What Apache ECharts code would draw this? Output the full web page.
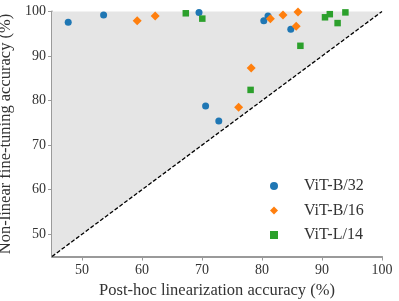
<!DOCTYPE html>
<html><head><meta charset="utf-8">
<script src="https://cdn.jsdelivr.net/npm/echarts@6/dist/echarts.min.js"></script>
<style>html,body{margin:0;padding:0;background:#fff}#c{width:399px;height:301px}</style>
</head><body><div id="c"></div>
<script>
const tickValues = [50, 60, 70, 80, 90, 100];
const diagonal = [[45, 45], [100, 100]];
const vitB32 = [[47.7, 97.6], [53.6, 99.2], [69.5, 99.8], [70.6, 78.8], [72.8, 75.4], [80.3, 97.9], [81.0, 99.0], [84.8, 96.0]];
const vitB16 = [[59.2, 97.9], [62.2, 99.0], [76.1, 78.5], [78.2, 87.3], [81.4, 98.4], [83.5, 99.2], [85.7, 96.7], [86.0, 99.9]];
const vitL14 = [[67.3, 99.6], [70.05, 98.4], [78.1, 82.4], [86.4, 92.3], [90.5, 98.7], [91.3, 99.4], [92.6, 97.4], [93.9, 99.8]];

const serif = 'Liberation Serif';
const axisCommon = {
  type: 'value', min: 45, max: 100, interval: 5,
  axisLine: {show: true, lineStyle: {color: '#9a9a9a', width: 2}},
  axisTick: {show: true, customValues: tickValues, length: 4, lineStyle: {color: '#9a9a9a', width: 1}},
  axisLabel: {customValues: tickValues, color: '#333', fontFamily: serif, fontSize: 14},
  splitLine: {show: false},
  nameLocation: 'middle',
  nameTextStyle: {color: '#333', fontFamily: serif, fontSize: 16.5}
};
const chart = echarts.init(document.getElementById('c'));
chart.setOption({
  animation: false,
  grid: {left: 52, right: 17, top: 11.5, bottom: 44.5, containLabel: false, outerBoundsMode: 'none'},
  xAxis: Object.assign({}, axisCommon, {name: 'Post-hoc linearization accuracy (%)', nameGap: 23, axisLabel: Object.assign({}, axisCommon.axisLabel, {margin: 7})}),
  yAxis: Object.assign({}, axisCommon, {name: 'Non-linear fine-tuning accuracy (%)', nameGap: 33, axisLabel: Object.assign({}, axisCommon.axisLabel, {margin: 6})}),
  legend: {
    orient: 'vertical', left: 265, top: 173,
    itemWidth: 8, itemHeight: 8, itemGap: 8.5,
    textStyle: {fontFamily: serif, fontSize: 16, color: '#333', padding: [0, 0, 0, 21], lineHeight: 16},
    data: ['ViT-B/32', 'ViT-B/16', 'ViT-L/14']
  },
  series: [
    {type: 'line', data: diagonal, symbol: 'none', silent: true, z: 1,
     lineStyle: {color: '#000', width: 1.3, type: [4, 2]},
     areaStyle: {color: '#e5e5e5', opacity: 1, origin: 'end'}},
    {name: 'ViT-B/32', type: 'scatter', data: vitB32, symbol: 'circle', symbolSize: 7, itemStyle: {color: '#1f77b4', opacity: 1}, z: 3},
    {name: 'ViT-B/16', type: 'scatter', data: vitB16, symbol: 'diamond', symbolSize: 9, itemStyle: {color: '#ff7f0e', opacity: 1}, z: 3},
    {name: 'ViT-L/14', type: 'scatter', data: vitL14, symbol: 'rect', symbolSize: 6.5, itemStyle: {color: '#2ca02c', opacity: 1}, z: 3}
  ],
  graphic: [{
    type: 'text', x: 142, y: 99,
    style: {text: 'Non-linear\nadvantage', align: 'center', verticalAlign: 'middle',
            font: '14.5px "Liberation Serif"', fill: '#444', lineHeight: 16}
  }]
});
</script></body></html>
